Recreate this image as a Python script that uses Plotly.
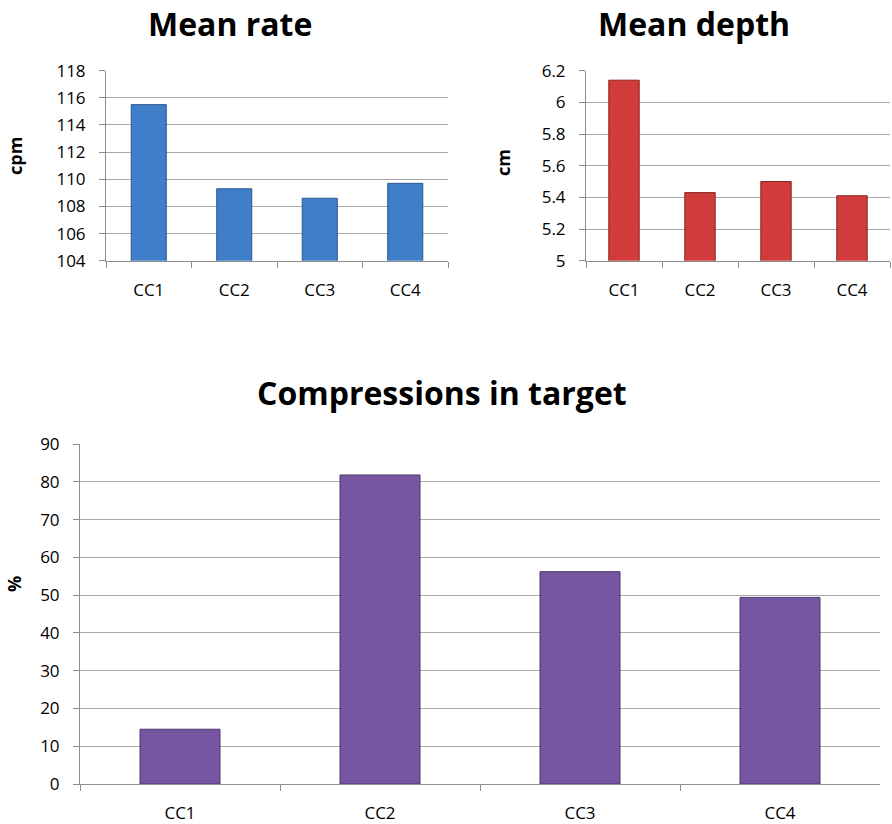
import plotly.graph_objects as go

categories = ["CC1", "CC2", "CC3", "CC4"]
mean_rate = [115.5, 109.3, 108.6, 109.7]
mean_depth = [6.14, 5.43, 5.50, 5.41]
in_target = [14.5, 81.8, 56.2, 49.4]

rate_ticks = [104, 106, 108, 110, 112, 114, 116, 118]
depth_ticks = [5, 5.2, 5.4, 5.6, 5.8, 6, 6.2]
depth_tick_text = ["5", "5.2", "5.4", "5.6", "5.8", "6", "6.2"]
target_ticks = [0, 10, 20, 30, 40, 50, 60, 70, 80, 90]

W, H = 892, 824
FONT = "Open Sans, Liberation Sans, sans-serif"

fig = go.Figure()
fig.add_trace(go.Bar(x=categories, y=mean_rate, xaxis="x", yaxis="y",
                     width=0.41, marker=dict(color="#3F7EC9", line=dict(color="#2A5790", width=1))))
fig.add_trace(go.Bar(x=categories, y=mean_depth, xaxis="x2", yaxis="y2",
                     width=0.4, marker=dict(color="#CF3C3A", line=dict(color="#8A2321", width=1))))
fig.add_trace(go.Bar(x=categories, y=in_target, xaxis="x3", yaxis="y3",
                     width=0.4, marker=dict(color="#7656A1", line=dict(color="#4C376E", width=1))))

def px_x(p):
    return p / W

def px_y(p):
    return 1 - p / H

grid = "#A8A8A8"
axline = "#8C8C8C"
tickfont = dict(family=FONT, size=17, color="#000000")

def xax(d0, d1, anchor):
    return dict(domain=[px_x(d0), px_x(d1)], anchor=anchor, type="category",
                showline=True, linecolor=axline, linewidth=1,
                ticks="outside", tickson="boundaries", ticklen=6, tickcolor=axline,
                tickfont=tickfont, showgrid=False, fixedrange=True, automargin=False,
                ticklabelstandoff=14)

def yax(d0, d1, anchor, rng, tv, tt=None):
    d = dict(domain=[px_y(d1), px_y(d0)], anchor=anchor, range=rng,
             tickvals=tv, showline=True, linecolor=axline, linewidth=1,
             ticks="outside", ticklen=6, tickcolor=axline,
             showgrid=True, gridcolor=grid, gridwidth=1, zeroline=False,
             tickfont=tickfont, fixedrange=True, automargin=False,
             ticklabelstandoff=10)
    if tt is not None:
        d["ticktext"] = tt
    return d

fig.update_layout(
    width=W, height=H,
    margin=dict(l=0, r=0, t=0, b=0, autoexpand=False),
    paper_bgcolor="white", plot_bgcolor="white",
    showlegend=False, bargap=0.6,
    xaxis=xax(106, 448, "y"),
    yaxis=yax(70.7, 260.7, "x", [104, 118], rate_ticks),
    xaxis2=xax(586, 890, "y2"),
    yaxis2=yax(70.7, 260.7, "x2", [5, 6.2], depth_ticks, depth_tick_text),
    xaxis3=xax(80, 880, "y3"),
    yaxis3=yax(444, 784, "x3", [0, 90], target_ticks),
)

title_font = dict(family=FONT, size=32, color="#000000")
axis_title_font = dict(family=FONT, size=18, color="#000000")

annots = [
    dict(text="<b>Mean rate</b>", x=px_x(230), y=px_y(0), font=title_font, yanchor="top"),
    dict(text="<b>Mean depth</b>", x=px_x(694), y=px_y(0), font=title_font, yanchor="top"),
    dict(text="<b>Compressions in target</b>", x=px_x(442), y=px_y(393), font=title_font, yanchor="middle"),
    dict(text="<b>cpm</b>", x=px_x(15), y=px_y(156), font=axis_title_font, textangle=-90, yanchor="middle"),
    dict(text="<b>cm</b>", x=px_x(503), y=px_y(163), font=axis_title_font, textangle=-90, yanchor="middle"),
    dict(text="<b>%</b>", x=px_x(14), y=px_y(584), font=axis_title_font, textangle=-90, yanchor="middle"),
]
for a in annots:
    fig.add_annotation(xref="paper", yref="paper", xanchor="center",
                       showarrow=False, **a)

fig.write_html("out.html", config={"displayModeBar": False},
               post_script="document.body.style.margin='0';document.body.style.overflow='hidden';")
